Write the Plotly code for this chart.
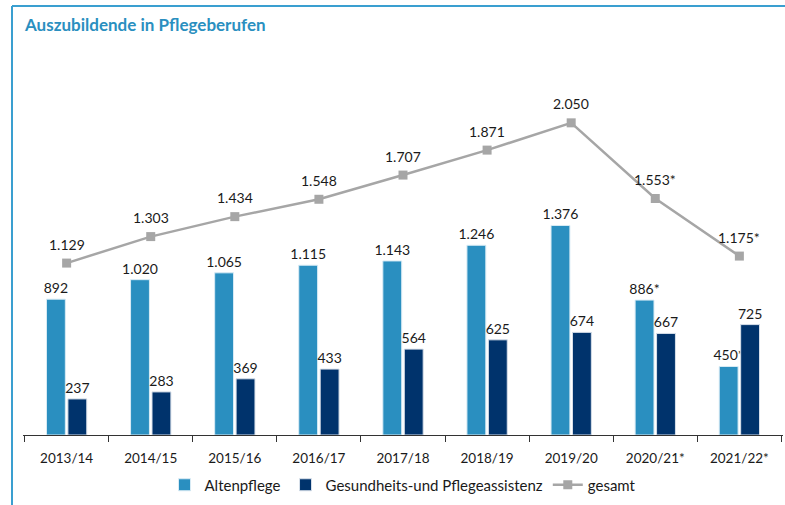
import plotly.graph_objects as go

categories = ["2013/14", "2014/15", "2015/16", "2016/17", "2017/18", "2018/19", "2019/20", "2020/21*", "2021/22*"]
altenpflege = [892, 1020, 1065, 1115, 1143, 1246, 1376, 886, 450]
altenpflege_labels = ["892", "1.020", "1.065", "1.115", "1.143", "1.246", "1.376", "886*", "450*"]
assistenz = [237, 283, 369, 433, 564, 625, 674, 667, 725]
assistenz_labels = ["237", "283", "369", "433", "564", "625", "674", "667", "725"]
gesamt = [1129, 1303, 1434, 1548, 1707, 1871, 2050, 1553, 1175]
gesamt_labels = ["1.129", "1.303", "1.434", "1.548", "1.707", "1.871", "2.050", "1.553*", "1.175*"]

FONT = "Lato, 'Open Sans', sans-serif"
TXT = "#1a1a1a"

fig = go.Figure()
fig.add_trace(go.Bar(
    x=categories, y=altenpflege, name="Altenpflege",
    marker=dict(color="#2a8fc0", line=dict(color="#d8ebf5", width=1)),
    text=altenpflege_labels, textposition="outside", cliponaxis=False, constraintext="none",
    textfont=dict(size=14, color=TXT, family=FONT),
))
fig.add_trace(go.Bar(
    x=categories, y=assistenz, name="Gesundheits-und Pflegeassistenz",
    marker=dict(color="#00336c", line=dict(color="#d8e0ea", width=1)),
    text=assistenz_labels, textposition="outside", cliponaxis=False, constraintext="none",
    textfont=dict(size=14, color=TXT, family=FONT),
))
fig.add_trace(go.Scatter(
    x=categories, y=gesamt, name="gesamt", mode="lines+markers",
    line=dict(color="#a6a6a6", width=2.5),
    marker=dict(symbol="square", size=9, color="#a6a6a6"),
    cliponaxis=False,
))
for c, v, t in zip(categories, gesamt, gesamt_labels):
    fig.add_annotation(x=c, y=v, text=t, showarrow=False, yshift=19, yanchor="middle",
                       font=dict(size=14, color=TXT, family=FONT))

frame_x = (12 - 23) / 760
frame_top = (435 - 6) / 335
fig.add_shape(type="line", xref="paper", yref="paper", x0=frame_x, x1=1.01, y0=frame_top, y1=frame_top,
              line=dict(color="#3a9fd0", width=2), layer="above")
fig.add_shape(type="line", xref="paper", yref="paper", x0=frame_x, x1=frame_x, y0=frame_top, y1=-0.22,
              line=dict(color="#3a9fd0", width=2), layer="above")

fig.update_layout(
    width=785, height=505,
    margin=dict(l=23, r=2, t=100, b=70, autoexpand=False),
    paper_bgcolor="white", plot_bgcolor="white",
    font=dict(family=FONT, color=TXT, size=13),
    title=dict(text="<b>Auszubildende in Pflegeberufen</b>", x=25 / 785, xanchor="left",
               y=1 - 25 / 505, yanchor="middle",
               font=dict(size=17, color="#2a8fc0", family=FONT)),
    barmode="group", bargap=0.49, bargroupgap=0.12,
    showlegend=True,
    legend=dict(orientation="h", x=0.5, xanchor="center", y=-0.1, yanchor="top",
                font=dict(size=15, color=TXT, family=FONT), itemwidth=30,
                traceorder="normal"),
    xaxis=dict(type="category", showline=True, linecolor="#333333", linewidth=1, automargin=False,
               ticks="outside", tickson="boundaries", ticklen=6, tickcolor="#333333",
               ticklabelstandoff=11,
               showgrid=False, tickfont=dict(size=13.5, color=TXT, family=FONT)),
    yaxis=dict(range=[0, 2200], visible=False, showgrid=False, zeroline=False, automargin=False),
)

fig.write_html("out.html", config={"displayModeBar": False},
               post_script="document.body.style.margin='0';")
